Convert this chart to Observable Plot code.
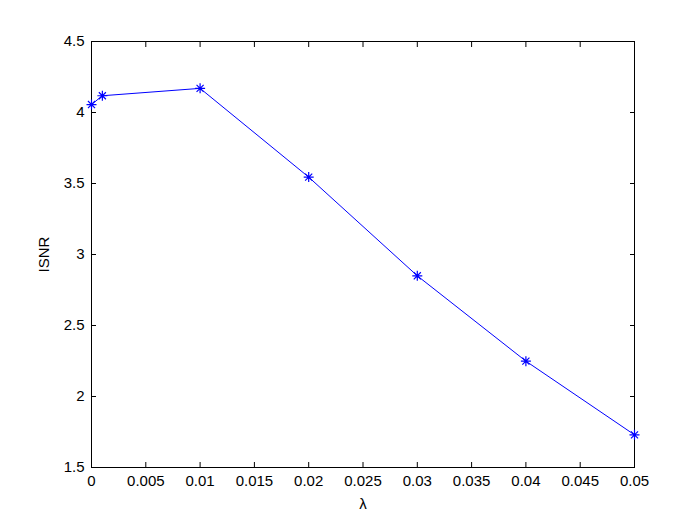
<!DOCTYPE html>
<html>
<head>
<meta charset="utf-8">
<script src="https://cdn.jsdelivr.net/npm/d3@7"></script>
<script src="https://cdn.jsdelivr.net/npm/@observablehq/plot@0.6"></script>
<style>
  html, body { margin: 0; padding: 0; background: #fff; }
  svg { display: block; }
</style>
</head>
<body>
<div id="chart"></div>
<script>
const lambda = [0, 0.001, 0.01, 0.02, 0.03, 0.04, 0.05];
const isnr = [4.056, 4.118, 4.17, 3.545, 2.85, 2.249, 1.73];
const xTicks = [0, 0.005, 0.01, 0.015, 0.02, 0.025, 0.03, 0.035, 0.04, 0.045, 0.05];
const yTicks = [1.5, 2, 2.5, 3, 3.5, 4, 4.5];

const data = lambda.map((x, i) => ({x, y: isnr[i]}));
const fmt = d => String(d);

// MATLAB-style eight-armed asterisk marker
const star8 = {
  draw(context, size) {
    const r = Math.sqrt(size / Math.PI);
    const d = r * Math.SQRT1_2;
    context.moveTo(-r, 0); context.lineTo(r, 0);
    context.moveTo(0, -r); context.lineTo(0, r);
    context.moveTo(-d, -d); context.lineTo(d, d);
    context.moveTo(-d, d); context.lineTo(d, -d);
  }
};

const chart = Plot.plot({
  width: 700,
  height: 525,
  marginLeft: 91,
  marginRight: 66,
  marginTop: 41,
  marginBottom: 58,
  style: {fontFamily: "Liberation Sans, Arial, sans-serif", fontSize: "15px", color: "#000", background: "#fff"},
  x: {domain: [0, 0.05]},
  y: {domain: [1.5, 4.5]},
  marks: [
    Plot.frame({stroke: "#000", strokeWidth: 1}),
    Plot.axisX(xTicks, {anchor: "bottom", tickSize: -5, tickPadding: 13, tickFormat: fmt, label: "λ", labelAnchor: "center", labelArrow: "none", labelOffset: 41, fontSize: 15}),
    Plot.axisX(xTicks, {anchor: "top", tickSize: -5, tickFormat: () => "", label: null}),
    Plot.axisY(yTicks, {anchor: "left", tickSize: -5, tickPadding: 12, tickFormat: fmt, label: "ISNR", labelAnchor: "center", labelArrow: "none", labelOffset: 53, fontSize: 15}),
    Plot.axisY(yTicks, {anchor: "right", tickSize: -5, tickFormat: () => "", label: null}),
    Plot.line(data, {x: "x", y: "y", stroke: "#0000ff", strokeWidth: 1}),
    Plot.dot(data, {x: "x", y: "y", symbol: star8, r: 5, stroke: "#0000ff", strokeWidth: 1.2})
  ]
});
document.getElementById("chart").appendChild(chart);
</script>
</body>
</html>
